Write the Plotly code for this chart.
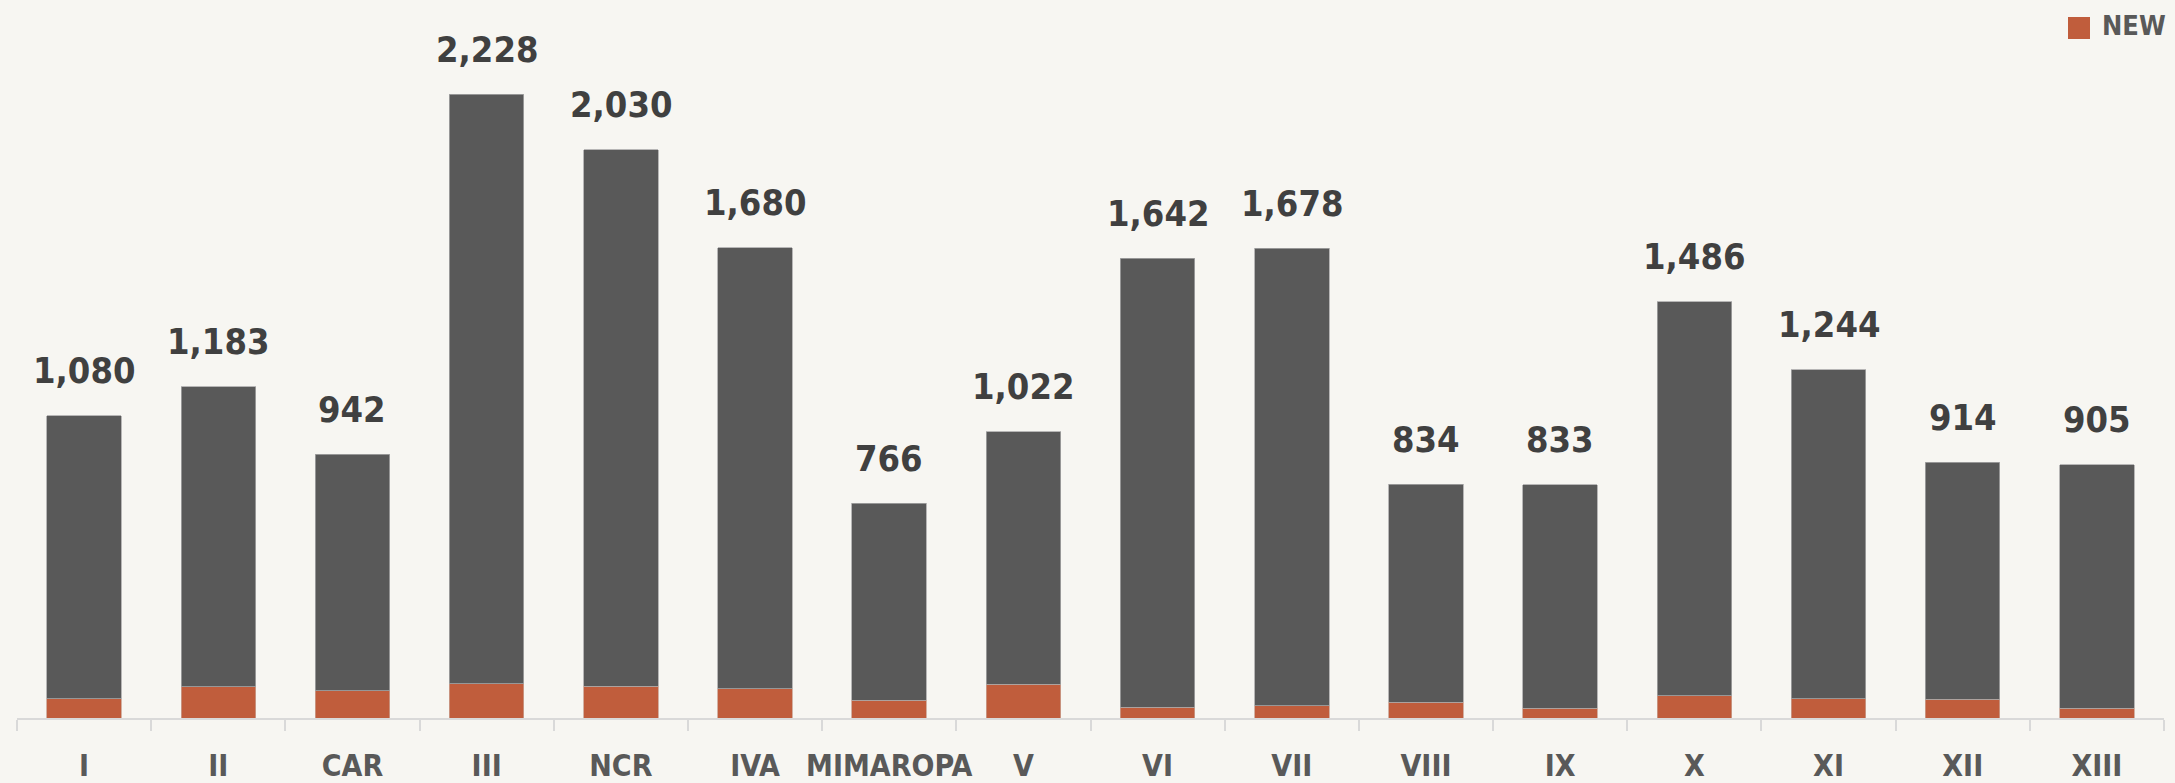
import plotly.graph_objects as go

regions = ["I", "II", "CAR", "III", "NCR", "IVA", "MIMAROPA", "V", "VI", "VII",
           "VIII", "IX", "X", "XI", "XII", "XIII"]
totals = [1080, 1183, 942, 2228, 2030, 1680, 766, 1022, 1642, 1678, 834, 833, 1486, 1244, 914, 905]
new = [68, 111, 98, 123, 114, 105, 63, 121, 39, 44, 56, 35, 79, 69, 67, 35]
rest = [t - n for t, n in zip(totals, new)]

BG = "#f7f6f2"
GRAY = "#595959"
ORANGE = "#c05d3c"
FONT = "DejaVu Sans Condensed, Liberation Sans Narrow, sans-serif"

fig = go.Figure()
fig.add_trace(go.Bar(x=regions, y=new, name="NEW",
                     marker=dict(color=ORANGE, line=dict(color="#c9a08e", width=0.8)), showlegend=False))
fig.add_trace(go.Bar(x=regions, y=rest, name="OTHER",
                     marker=dict(color=GRAY, line=dict(color="#a6a6a6", width=0.8)), showlegend=False))

for r, t in zip(regions, totals):
    fig.add_annotation(x=r, y=t, text=f"{t:,}", showarrow=False, yanchor="middle", yshift=45,
                       font=dict(family=FONT, size=36, color="#404040", weight="bold"))

# legend (drawn manually to match swatch size)
fig.add_shape(type="rect", xref="paper", yref="paper", x0=(2068 - 17) / 2147, x1=(2090 - 17) / 2147,
              y0=(718 - 39) / 678, y1=(718 - 17) / 678, fillcolor=ORANGE, line=dict(width=0))
fig.add_annotation(xref="paper", yref="paper", x=(2168 - 17) / 2147, y=(718 - 25) / 678,
                   xanchor="right", yanchor="middle", text="NEW", showarrow=False,
                   font=dict(family=FONT, size=27, color=GRAY, weight="bold"))

fig.update_layout(
    width=2175, height=783,
    barmode="stack", bargap=0.445,
    paper_bgcolor=BG, plot_bgcolor=BG,
    margin=dict(l=17, r=11, t=40, b=65, autoexpand=False),
    xaxis=dict(showline=True, linecolor="#d9d9d9", linewidth=1.5, ticks="outside", tickson="boundaries",
               ticklen=11, tickwidth=1.5, tickcolor="#d9d9d9", showgrid=False, ticklabelstandoff=20,
               tickangle=0, automargin=False,
               tickfont=dict(family=FONT, size=30, color=GRAY, weight="bold")),
    yaxis=dict(visible=False, range=[0, 2421], showgrid=False, automargin=False),
)
fig.write_html("out.html", config={"displayModeBar": False},
               post_script="document.body.style.margin='0px';document.body.style.overflow='hidden';")
